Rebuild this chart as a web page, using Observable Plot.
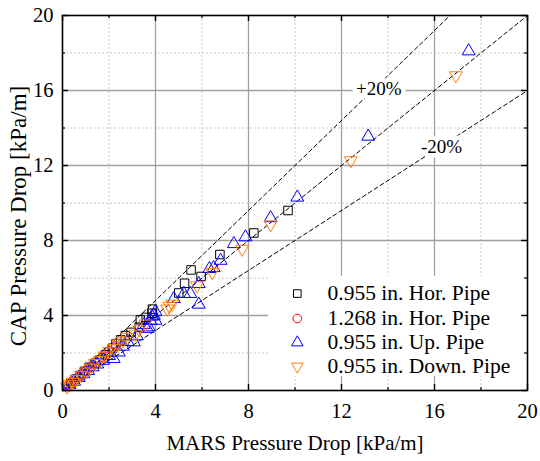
<!DOCTYPE html>
<html><head><meta charset="utf-8">
<script src="https://cdn.jsdelivr.net/npm/d3@7"></script>
<script src="https://cdn.jsdelivr.net/npm/@observablehq/plot@0.6"></script>
<style>
body{margin:0;background:#fff;}
svg, svg text, svg g{font-family:"Liberation Serif","Times New Roman",serif !important;}
</style>
</head><body><div id="chart"></div>
<script>
// ---- data ----
const seriesNames = ["0.955 in. Hor. Pipe", "1.268 in. Hor. Pipe", "0.955 in. Up. Pipe", "0.955 in. Down. Pipe"];
const seriesColors = ["#000000", "#ff0000", "#0000ff", "#ff7f0e"];

const horSmallX = [0.35,0.55,0.75,0.95,1.15,1.4,1.6,1.85,2.0,2.15,2.3,2.5,2.7,2.95,3.3,3.35,3.6,3.85,3.87,5.0,5.25,5.53,5.96,6.77,8.23,9.7];
const horSmallY = [0.38,0.6,0.8,1.02,1.24,1.45,1.62,1.9,2.05,2.25,2.5,2.7,2.93,3.1,3.38,3.77,3.9,4.12,4.34,5.2,5.72,6.43,6.08,7.25,8.4,9.6];

const horLargeX = [0.25,0.4,0.55,0.7,0.85,1.0,1.2,1.45,1.7,2.0,2.3];
const horLargeY = [0.27,0.42,0.58,0.72,0.9,1.05,1.25,1.5,1.78,2.1,2.35];

const upX = [0.3,0.5,0.7,0.9,1.1,1.3,1.5,1.75,2.0,2.2,2.42,2.6,2.8,3.07,3.2,3.5,3.65,3.71,3.78,3.85,3.93,4.0,4.0,4.79,5.22,5.5,5.86,5.86,6.32,6.5,6.8,7.37,7.87,8.95,10.1,13.15,17.47];
const upY = [0.3,0.48,0.68,0.88,1.05,1.25,1.4,1.6,1.85,1.69,2.04,2.35,2.6,2.58,2.9,3.5,3.3,3.38,3.73,3.95,4.0,3.73,4.2,4.89,5.16,5.16,5.69,4.59,6.49,6.54,6.93,7.82,8.18,9.2,10.3,13.55,18.1];

const downX = [0.2,0.3,0.45,0.6,0.8,1.0,1.2,1.4,1.6,1.8,2.0,2.2,2.4,2.6,2.78,3.14,3.3,3.57,4.5,4.6,4.72,5.79,6.44,7.73,8.95,12.4,16.92];
const downY = [0.2,0.32,0.45,0.6,0.82,1.0,1.2,1.45,1.62,1.85,2.08,2.25,2.5,2.65,2.84,3.02,3.25,3.56,4.36,4.5,4.62,5.6,6.31,7.55,8.85,12.27,16.8];

const majorTicks = [0,4,8,12,16,20];
const minorTicks = [2,6,10,14,18];
const innerMajor = [4,8,12,16];
const refFactors = [1.2, 1.0, 0.8];
const refLabels = ["+20%", "-20%"];
const refLabelX = [13.6, 16.3];
const refLabelY = [16.1, 13.0];
const xTitle = "MARS Pressure Drop [kPa/m]";
const yTitle = "CAP Pressure Drop [kPa/m]";

// ---- layout ----
const W = 540, H = 461, mL = 62, mR = 13, mT = 15, mB = 71;
const pw = W - mL - mR, ph = H - mT - mB;

const toPts = (xs, ys) => xs.map((x, i) => ({x, y: ys[i]}));
const refLines = refFactors.flatMap(f => [0, 20].map(x => ({f, x, y: x * f})));

// legend layout in data units
const legMarkX = 10.1, legTextX = 11.4, legRowY = [5.17, 3.84, 2.56, 1.28];
const legend = seriesNames.map((name, i) => ({name, i, y: legRowY[i]}));
const symbols = ["square", "circle", "triangle", "triangle"];
const rotates = [0, 0, 0, 180];

const fs = 20.5;
const chart = Plot.plot({
  width: W, height: H,
  marginLeft: mL, marginRight: mR, marginTop: mT, marginBottom: mB,
  x: {domain: [0, 20]},
  y: {domain: [0, 20]},
  style: {fontFamily: "Liberation Serif, serif", fontSize: fs + "px", background: "#fff"},
  marks: [
    Plot.gridX(minorTicks, {stroke: "#c8c8c8", strokeOpacity: 1, strokeDasharray: "2,2"}),
    Plot.gridY(minorTicks, {stroke: "#c8c8c8", strokeOpacity: 1, strokeDasharray: "2,2"}),
    Plot.gridX(innerMajor, {stroke: "#a0a0a0", strokeOpacity: 1, strokeWidth: 1.3}),
    Plot.gridY(innerMajor, {stroke: "#a0a0a0", strokeOpacity: 1, strokeWidth: 1.3}),
    // legend background
    Plot.rect([{x1: 8.86, x2: 20, y1: 0.75, y2: 6.1}], {x1: "x1", x2: "x2", y1: "y1", y2: "y2", fill: "white"}),
    // reference lines
    Plot.line(refLines, {x: "x", y: "y", z: "f", stroke: "black", strokeWidth: 1, strokeDasharray: "4,3", clip: true}),
    Plot.text(refLabels, {x: (d, i) => refLabelX[i], y: (d, i) => refLabelY[i], text: d => d, fontSize: 19, fill: "black", stroke: "white", strokeWidth: 9, paintOrder: "stroke"}),
    // data
    Plot.dot(toPts(horSmallX, horSmallY), {x: "x", y: "y", symbol: "square", stroke: seriesColors[0], fill: "none", r: 4.8, strokeWidth: 1}),
    Plot.dot(toPts(horLargeX, horLargeY), {x: "x", y: "y", symbol: "circle", stroke: seriesColors[1], fill: "none", r: 4.6, strokeWidth: 1}),
    Plot.dot(toPts(upX, upY), {x: "x", y: "y", symbol: "triangle", stroke: seriesColors[2], fill: "none", r: 4.8, strokeWidth: 1}),
    Plot.dot(toPts(downX, downY), {x: "x", y: "y", symbol: "triangle", rotate: 180, stroke: seriesColors[3], fill: "none", r: 4.8, strokeWidth: 1}),
    // frame
    Plot.frame({stroke: "black", strokeWidth: 1.6}),
    // inward ticks
    Plot.tickX(majorTicks, {x: d => d, insetTop: ph - 6, stroke: "black", strokeWidth: 1.4}),
    Plot.tickX(majorTicks, {x: d => d, insetBottom: ph - 6, stroke: "black", strokeWidth: 1.4}),
    Plot.tickX(minorTicks, {x: d => d, insetTop: ph - 3, stroke: "black", strokeWidth: 1.2}),
    Plot.tickX(minorTicks, {x: d => d, insetBottom: ph - 3, stroke: "black", strokeWidth: 1.2}),
    Plot.tickY(majorTicks, {y: d => d, insetRight: pw - 6, stroke: "black", strokeWidth: 1.4}),
    Plot.tickY(majorTicks, {y: d => d, insetLeft: pw - 6, stroke: "black", strokeWidth: 1.4}),
    Plot.tickY(minorTicks, {y: d => d, insetRight: pw - 3, stroke: "black", strokeWidth: 1.2}),
    Plot.tickY(minorTicks, {y: d => d, insetLeft: pw - 3, stroke: "black", strokeWidth: 1.2}),
    // tick labels
    Plot.axisX(majorTicks, {anchor: "bottom", tickSize: 0, tickPadding: 13, fontSize: fs, label: null}),
    Plot.axisY(majorTicks, {anchor: "left", tickSize: 0, tickPadding: 9, fontSize: fs, label: null}),
    // axis titles
    Plot.text([xTitle], {frameAnchor: "bottom", dy: 59, text: d => d, fontSize: 21, fill: "black"}),
    Plot.text([yTitle], {frameAnchor: "left", textAnchor: "middle", dx: -44, dy: 13, rotate: -90, text: d => d, fontSize: 23, fill: "black"}),
    // legend
    ...legend.map(d => Plot.dot([d], {x: () => legMarkX, y: "y", symbol: symbols[d.i], rotate: rotates[d.i], stroke: seriesColors[d.i], fill: "none", r: 4.3, strokeWidth: 1})),
    Plot.text(legend, {x: () => legTextX, y: "y", text: "name", textAnchor: "start", fontSize: 21.5, fill: "black"})
  ]
});
document.getElementById("chart").append(chart);
</script>
</body></html>
